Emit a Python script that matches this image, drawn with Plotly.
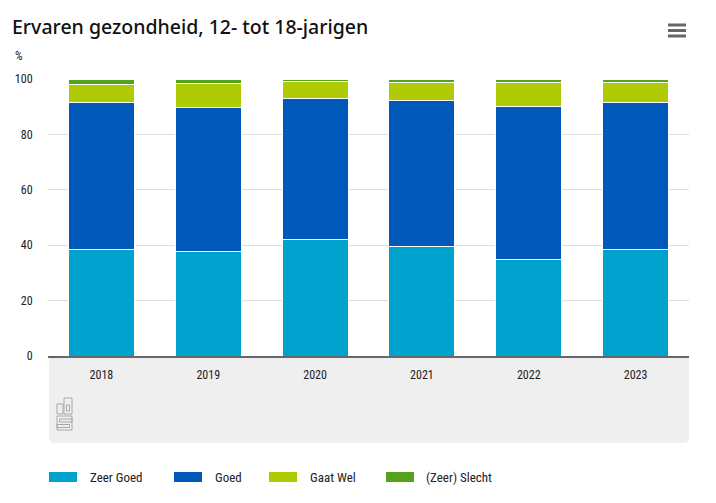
import plotly.graph_objects as go

years = ["2018", "2019", "2020", "2021", "2022", "2023"]
zeer_goed = [38.6, 37.9, 42.2, 39.4, 34.7, 38.6]
goed = [53.0, 51.7, 50.9, 52.7, 55.4, 53.0]
gaat_wel = [6.3, 8.8, 6.1, 6.7, 8.7, 7.2]
zeer_slecht = [2.1, 1.6, 0.8, 1.2, 1.2, 1.2]

series_names = ["Zeer Goed", "Goed", "Gaat Wel", "(Zeer) Slecht"]
series_values = [zeer_goed, goed, gaat_wel, zeer_slecht]
series_colors = ["#00a1cd", "#0058b8", "#afcb05", "#53a31d"]

W, H = 716, 503
ML, MR, MT, MB = 48, 27, 79, 147
PW, PH = W - ML - MR, H - MT - MB

def px(x):
    return (x - ML) / PW

def py(y):
    return (H - MB - y) / PH

FONT = "Liberation Sans Narrow, Roboto Condensed, DejaVu Sans Condensed, sans-serif"

fig = go.Figure()
for name, vals, col in zip(series_names, series_values, series_colors):
    fig.add_trace(go.Bar(
        x=years, y=vals, name=name,
        marker=dict(color=col, line=dict(color="white", width=1)),
        showlegend=False,
    ))

shapes = []
annotations = []

# grey panel under the x axis
shapes.append(dict(type="path", xref="paper", yref="paper",
                   path=("M {x0},{y0} L {x1},{y0} L {x1},{y1a} Q {x1},{y1} {x1b},{y1} "
                         "L {x0b},{y1} Q {x0},{y1} {x0},{y1a} Z").format(
                       x0=px(49), x1=px(689), y0=py(357), y1=py(443),
                       y1a=py(437), x1b=px(683), x0b=px(55)),
                   fillcolor="#efefef", line=dict(width=0), layer="below"))

# cbs logo (decorative)
logo_col = "#a8a8a8"
for (x0, y0, x1, y1) in [(64, 398, 72, 414), (66.5, 405, 69.5, 411), (57, 404, 63, 414),
                         (57, 416, 72, 430), (59.5, 419, 72, 422), (57, 424.5, 69.5, 427.5)]:
    shapes.append(dict(type="rect", xref="paper", yref="paper",
                       x0=px(x0), x1=px(x1), y0=py(y0), y1=py(y1),
                       line=dict(color=logo_col, width=1), fillcolor="rgba(0,0,0,0)"))

# menu icon
for yy in [25, 30.5, 36]:
    shapes.append(dict(type="line", xref="paper", yref="paper",
                       x0=px(668), x1=px(686), y0=py(yy), y1=py(yy),
                       line=dict(color="#666666", width=3)))

# manual legend
legend_sw = [49, 174, 269, 386]
legend_tx = [88, 213, 308, 424]
for name, col, sx, tx in zip(series_names, series_colors, legend_sw, legend_tx):
    shapes.append(dict(type="rect", xref="paper", yref="paper",
                       x0=px(sx), x1=px(sx + 28), y0=py(472), y1=py(482),
                       fillcolor=col, line=dict(width=0)))
    annotations.append(dict(xref="paper", yref="paper", x=px(tx), y=py(477.5),
                            text=name, showarrow=False, xanchor="left", yanchor="middle",
                            font=dict(size=13, color="#222222", family=FONT)))

# % unit label
annotations.append(dict(xref="paper", yref="paper", x=px(13), y=py(56),
                        text="%", showarrow=False, xanchor="left", yanchor="middle",
                        font=dict(size=12, color="#222222", family=FONT)))

fig.update_layout(
    width=W, height=H,
    margin=dict(l=ML, r=MR, t=MT, b=MB, autoexpand=False),
    barmode="stack", bargap=0.382,
    paper_bgcolor="white", plot_bgcolor="white",
    title=dict(text="Ervaren gezondheid, 12- tot 18-jarigen",
               x=12 / W, xanchor="left", y=1 - 27 / H, yanchor="middle",
               font=dict(size=19.5, color="#111111", family="Noto Sans", weight=500)),
    font=dict(family=FONT, size=12, color="#222222"),
    xaxis=dict(showgrid=False, showline=True, linecolor="#666666", linewidth=2,
               ticks="outside", ticklen=7, tickcolor="rgba(0,0,0,0)",
               tickfont=dict(size=12, family=FONT, color="#222222")),
    yaxis=dict(range=[0, 100], dtick=20, showgrid=True, gridcolor="#dedede",
               gridwidth=1, zeroline=False, showline=False,
               ticks="outside", ticklen=12, tickcolor="rgba(0,0,0,0)",
               tickfont=dict(size=12, family=FONT, color="#222222")),
    shapes=shapes, annotations=annotations,
)

fig.write_html("out.html", config={"displayModeBar": False},
               post_script="document.body.style.margin='0';")
